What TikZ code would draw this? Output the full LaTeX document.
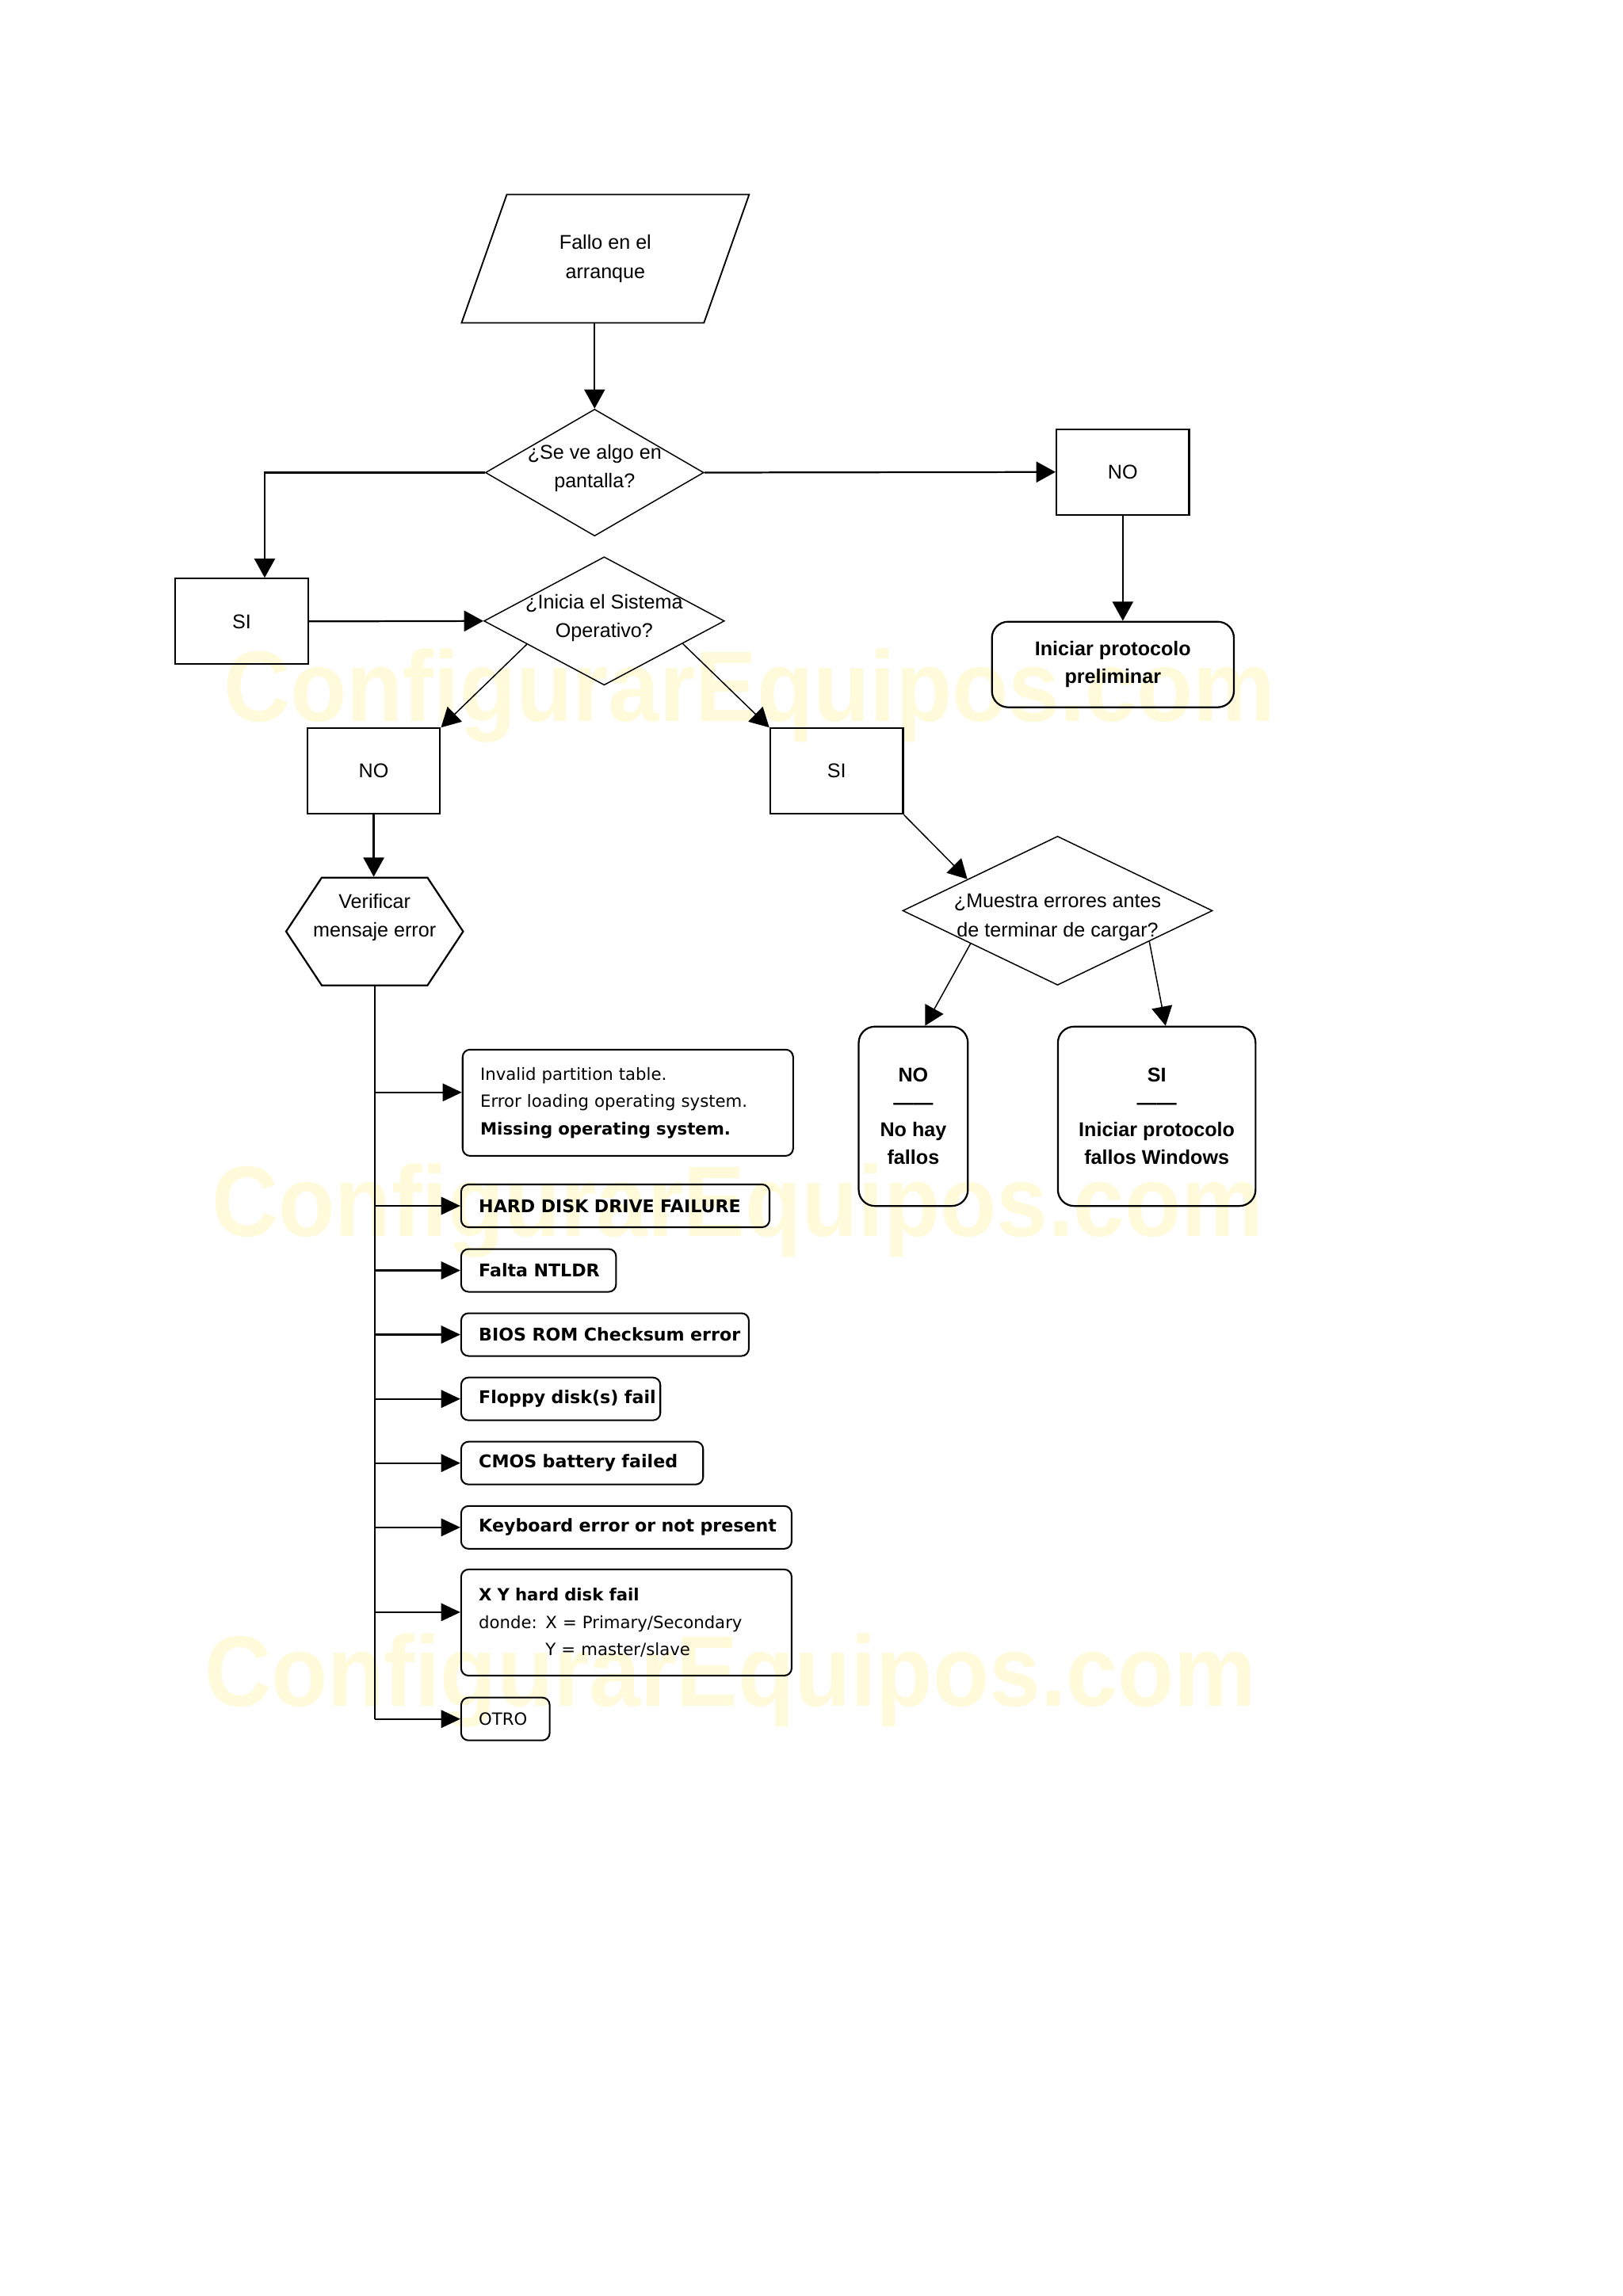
\documentclass[tikz,border=0pt]{standalone}
\usepackage{fontspec}
\setmainfont{Liberation Sans}
\newfontfamily\dejavu{DejaVu Sans}
\usetikzlibrary{arrows.meta,shapes.geometric,shapes.symbols,calc}
\definecolor{wmark}{RGB}{255,250,218}

\begin{document}
\begin{tikzpicture}[x=1pt, y=-1pt,
	flow/.style={font=\fontsize{13.5}{19.5}\selectfont, align=center},
	answer/.style={flow, draw, line width=1.2pt, minimum width=90, minimum height=58, inner sep=0},
	decision/.style={draw, diamond, line width=0.8pt, inner sep=0},
	result/.style={draw, line width=1.2pt, rounded corners=11pt, align=center, inner sep=0, font=\fontsize{13.5}{18.5}\selectfont\bfseries},
	errbox/.style={draw, line width=1.1pt, rounded corners=5pt, anchor=west, align=left, inner xsep=12, inner ysep=0, minimum height=29, text width=#1, font=\dejavu\fontsize{11.9}{18.5}\selectfont\bfseries, execute at begin node={\hyphenpenalty=10000\exhyphenpenalty=10000}},
	errtext/.style={errbox=#1, font=\dejavu\fontsize{11.4}{18.5}\selectfont},
	arr/.style={-{Triangle[length=13pt,width=14pt]}, line width=1.2pt},
	thin arr/.style={arr, line width=0.8pt},
	branch/.style={-{Triangle[length=13pt,width=12pt]}, line width=1.2pt},
	watermark/.style={anchor=base, text=wmark, xscale=0.92, font=\fontsize{68}{68}\selectfont\bfseries}]
	\useasboundingbox (0,0) rectangle (1100,1556.6);
	% marca de agua
	\node[watermark] (wm1) at (508,489) {ConfigurarEquipos.com};
	\node[watermark] (wm2) at (500,838) {ConfigurarEquipos.com};
	\node[watermark] (wm3) at (495,1156.5) {ConfigurarEquipos.com};

	\node[flow, draw, line width=1pt, trapezium, trapezium left angle=66, trapezium right angle=114, trapezium stretches=true, minimum width=195, minimum height=87, inner sep=0] (start) at (410.3,175.4) {Fallo en el\\arranque};
	\node[decision, minimum width=148, minimum height=86, label={[flow, yshift=3]center:¿Se ve algo en\\pantalla?}] (d1) at (403,320.4) {};
	\node[answer] (no1) at (761,320) {NO};
	\node[result, minimum width=164, minimum height=58] (prelim) at (754.3,450.5) {Iniciar protocolo\\preliminar};
	\node[answer] (si1) at (163.8,421.3) {SI};
	\node[decision, minimum width=163, minimum height=87, label={[flow, yshift=2]center:¿Inicia el Sistema\\Operativo?}] (d2) at (409.5,421) {};
	\node[answer] (no2) at (253.3,522.8) {NO};
	\node[answer] (si2) at (567,522.8) {SI};
	\node[draw, signal, signal to=west and east, signal pointer angle=113, line width=1.2pt, minimum width=120, minimum height=73, inner sep=0, label={[flow, yshift=9.5]center:Verificar\\mensaje error}] (verif) at (253.9,631.5) {};
	\node[decision, minimum width=210, minimum height=101, label={[flow, yshift=-4.6]center:¿Muestra errores antes\\de terminar de cargar?}] (d3) at (716.8,617.4) {};
	\node[result, minimum width=74, minimum height=121.6] (nof) at (619,756.8) {NO\\——\\No hay\\fallos};
	\node[result, minimum width=134, minimum height=121.6] (sif) at (784,756.8) {SI\\——\\Iniciar protocolo\\fallos Windows};

	\node[errtext=200, minimum height=72] (b1) at (313,747.6) {Invalid partition table.\\Error loading operating system.\\\textbf{Missing operating system.}};
	\node[errbox=185] (b2) at (312,817.5) {HARD~DISK~DRIVE~FAILURE};
	\node[errbox=81] (b3) at (312,861.3) {Falta~NTLDR};
	\node[errbox=171] (b4) at (312,904.8) {BIOS~ROM~Checksum~error};
	\node[errbox=111] (b5) at (312,948.4) {Floppy~disk(s)~fail};
	\node[errbox=140] (b6) at (312,991.9) {CMOS~battery~failed};
	\node[errbox=200] (b7) at (312,1035.5) {Keyboard~error~or~not~present};
	\node[errtext=200, minimum height=72] (b8) at (312,1100) {\textbf{X Y hard disk fail}\\donde: X = Primary/Secondary\\\hphantom{donde: }Y = master/slave};
	\node[errtext=36] (b9) at (312,1165.4) {OTRO};

	\draw[arr] (d1.north |- start.south) -- (d1.north);
	\draw[arr] (d1.west) -| ([xshift=15.6]si1.north);
	\draw[arr] (d1.east) -- (no1.west);
	\draw[arr] (no1.south) -- (no1.south |- prelim.north);
	\draw[arr] (si1.east) -- (d2.west);
	\draw[thin arr] ($(d2.west)!0.36!(d2.south)$) -- (no2.north east);
	\draw[thin arr] ($(d2.east)!0.35!(d2.south)$) -- (si2.north west);
	\draw[arr] (no2.south) -- (no2.south |- verif.north);
	\draw[thin arr] (si2.south east) -- ($(d3.west)!0.42!(d3.north)$);
	\draw[thin arr] ($(d3.west)!0.44!(d3.south)$) -- ([xshift=8]nof.north);
	\draw[thin arr] ($(d3.east)!0.41!(d3.south)$) -- ([xshift=6]sif.north);

	\draw[line width=1.2pt] (verif.south) -- (verif.south |- b9.west);
	\coordinate (t1) at ([yshift=7]b1.west);
	\coordinate (t8) at ([yshift=7]b8.west);
	\foreach \b in {t1,b2,b3,b4,b5,b6,b7,t8,b9}
		\draw[branch] (verif.south |- \b) -- (\b);
\end{tikzpicture}
\end{document}
